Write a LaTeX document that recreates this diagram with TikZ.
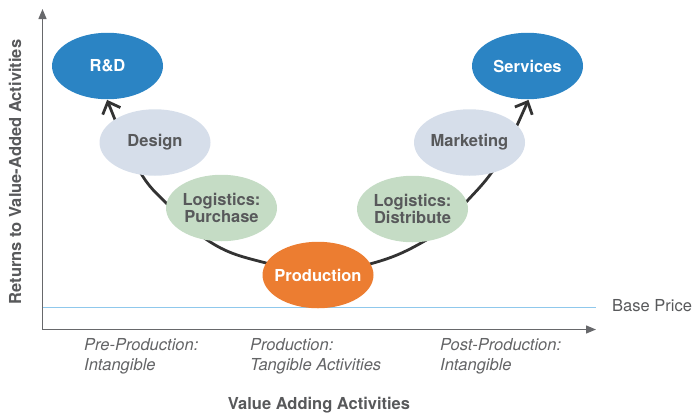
\documentclass[tikz,border=0pt]{standalone}
\usepackage{fontspec}
\setmainfont{TeX Gyre Heros}
\usetikzlibrary{arrows.meta,backgrounds,shapes.geometric}
\definecolor{axisgray}{HTML}{67686B}
\definecolor{textgray}{HTML}{58595B}
\definecolor{notegray}{HTML}{636466}
\definecolor{deepblue}{HTML}{2B84C4}
\definecolor{paleblue}{HTML}{D6DEEA}
\definecolor{palegreen}{HTML}{C5DCC5}
\definecolor{prodorange}{HTML}{EC7D31}
\definecolor{baseblue}{HTML}{8FC8EC}
\definecolor{curvegray}{HTML}{333333}
\begin{document}
\begin{tikzpicture}[x=1pt,y=1pt,
  stage/.style={ellipse, minimum width=111pt, minimum height=66.5pt, inner sep=-10pt,
    align=center, text=textgray,
    font=\fontsize{16.5}{15}\selectfont\bfseries},
  keystage/.style={stage, fill=deepblue, text=white},
  softstage/.style={stage},
  vcurve/.style={draw=curvegray, line width=2.8pt},
  vend/.style={vcurve, -{Straight Barb[length=10pt,width=19pt,line width=2.8pt]}},
  axisline/.style={draw=axisgray, line width=1.3pt},
  axistitle/.style={text=textgray, font=\fontsize{16.5}{20}\selectfont\bfseries},
  phase/.style={text=notegray, anchor=north west, align=left, inner sep=0pt,
    font=\fontsize{16.5}{20}\selectfont\itshape}
]
\useasboundingbox (0,0) rectangle (693,-416);

% axes and base price line
\coordinate (origin) at (42.5,-329.5);
\coordinate (ytop) at (42.5,-9);
\coordinate (xend) at (596,-329.5);
\coordinate (basestart) at (42.5,-307.3);
\coordinate (baseend) at (596,-307.3);
\draw[draw=baseblue, line width=1.5pt] (basestart) -- (baseend);
\draw[axisline, {Triangle[length=10pt,width=8pt]}-{Triangle[length=10pt,width=8pt]}]
  (ytop) -- (origin) -- (xend);
\node[anchor=west, text=textgray, font=\fontsize{16.5}{20}\selectfont, inner sep=0pt]
  (baseprice) at (612,-306) {Base Price};

% axis titles
\node[axistitle, rotate=90] (ytitle) at (15,-172) {Returns to Value-Added Activities};
\node[axistitle] (xtitle) at (319,-405) {Value Adding Activities};

% phases along the horizontal axis
\node[phase] (pre) at (84,-338) {Pre-Production:\\Intangible};
\node[phase] (mid) at (250,-338) {Production:\\Tangible Activities};
\node[phase] (post) at (440,-338) {Post-Production:\\Intangible};

% value chain stages
\node[keystage] (rd) at (107.5,-66) {R\&D};
\node[softstage, fill=paleblue] (design) at (155,-142.5) {Design};
\node[softstage, fill=palegreen] (lp) at (221.5,-208) {Logistics:\\Purchase};
\node[keystage, fill=prodorange] (prod) at (318,-275) {Production};
\node[softstage, fill=palegreen] (ld) at (412.5,-209) {Logistics:\\Distribute};
\node[softstage, fill=paleblue] (mkt) at (469.5,-142.5) {Marketing};
\node[keystage] (svc) at (527.5,-66) {Services};

% the smile curve, passing behind the stages
\begin{scope}[on background layer]
  \draw[vend, shorten <=-4pt, shorten >=0.5pt] (design.150) -- (rd.-91);
  \draw[vcurve, shorten <=-4pt, shorten >=-4pt] (design.248) to[out=-60,in=135] (lp.175);
  \draw[vcurve, shorten <=-4pt, shorten >=-4pt] (lp.247) to[out=-35,in=165] (prod.167);
  \draw[vcurve, shorten <=-4pt, shorten >=-4pt] (prod.12) to[out=15,in=-150] (ld.288);
  \draw[vcurve, shorten <=-4pt, shorten >=-4pt] (ld.8) to[out=48,in=-125] (mkt.305);
  \draw[vend, shorten <=-4pt, shorten >=0.5pt] (mkt.20) -- (svc.-88);
\end{scope}
\end{tikzpicture}
\end{document}
